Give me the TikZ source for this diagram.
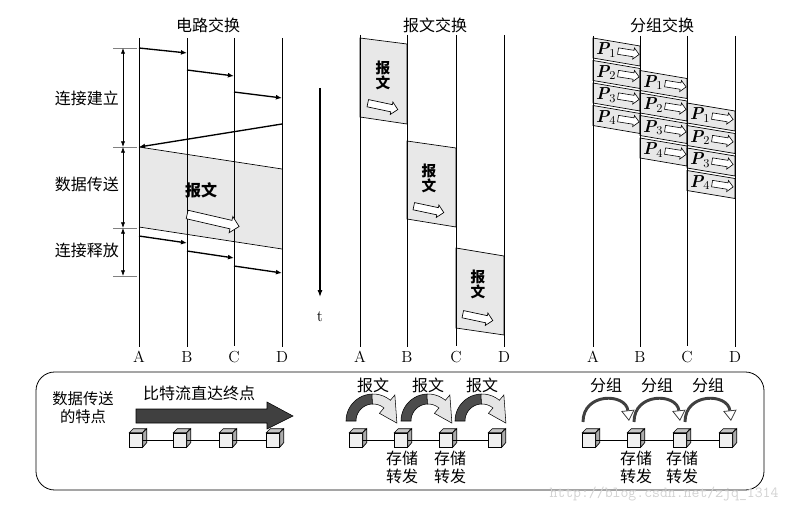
\documentclass[tikz,border=0pt]{standalone}
\usepackage{fontspec}
\newfontfamily\cjk{Noto Sans CJK SC}
\usetikzlibrary{arrows.meta,positioning,calc,shapes.arrows}

\tikzset{
 marc/.pic={
  \filldraw[fill=black!70,line width=0.4pt] plot[domain=180:92,samples=14] ({27*cos(\x)},{-27*sin(\x)}) -- plot[domain=92:180,samples=14] ({17*cos(\x)},{-17*sin(\x)}) -- cycle;
  \filldraw[fill=gray!20,line width=0.4pt] plot[domain=92:50,samples=10] ({27*cos(\x)},{-27*sin(\x)}) -- ({34*cos(50)},{-34*sin(50)}) -- ({24*cos(-5)},{-24*sin(-5)}) -- ({10*cos(50)},{-10*sin(50)}) -- plot[domain=50:92,samples=10] ({17*cos(\x)},{-17*sin(\x)}) -- cycle;
 }
}

\begin{document}
\begin{tikzpicture}[x=0.75pt,y=-0.75pt,font=\fontsize{12}{14}\selectfont,
 lane/.style={line width=0.6pt},
 sig/.style={-{Latex[length=1.6mm,width=1.3mm]},line width=1pt},
 tick/.style={draw=gray,line width=0.4pt},
 span/.style={{Latex[length=1.5mm,width=1.1mm]}-{Latex[length=1.5mm,width=1.1mm]},line width=0.5pt},
 msgbox/.style={fill=gray!18,draw=black,line width=0.5pt},
 zh/.style={font=\cjk\fontsize{12}{13.5}\selectfont},
 zhv/.style={font=\cjk\bfseries\fontsize{11}{11.3}\selectfont,align=center},
 hollow/.style={single arrow,draw,fill=white,line width=0.5pt,inner sep=0pt,minimum height=40pt,minimum width=12pt,single arrow head extend=3pt,inner ysep=3pt},
 hollowmid/.style={hollow,minimum height=23pt,minimum width=9pt,single arrow head extend=2pt,inner ysep=2.5pt},
 hollowsm/.style={hollow,minimum height=16pt,minimum width=8pt,single arrow head extend=1.8pt,inner ysep=2.2pt,line width=0.45pt},
 cube/.style={draw,fill=gray!12,inner sep=0pt,minimum width=9.5pt,minimum height=10.5pt,line width=0.5pt},
 parc/.style={line width=2.2pt,draw=black!75,-{Triangle[open,length=8pt,width=10pt,line width=0.6pt]}}]
\useasboundingbox (0,0) rectangle (794,517);

% circuit switching
\node[zh] (ttl1) at (208,25) {电路交换};
\node (ca) at (139,357) {A};
\node (cb) at (187,357) {B};
\node (cc) at (234,357) {C};
\node (cd) at (282,357) {D};
\fill[gray!18] (ca |- 0,147) -- (cd |- 0,169) -- (cd |- 0,249) -- (ca |- 0,227) -- cycle;
\draw[line width=0.5pt] (ca |- 0,147) -- (cd |- 0,169);
\draw[line width=0.5pt] (ca |- 0,227) -- (cd |- 0,249);
\foreach \n in {ca,cb,cc,cd}
  \draw[lane] (\n |- 0,38) -- (\n.north);
\draw[sig] (ca |- 0,48) -- (cb |- 0,53);
\draw[sig] (cb |- 0,70) -- (cc |- 0,76);
\draw[sig] (cc |- 0,92) -- (cd |- 0,98);
\draw[sig] (cd |- 0,124) -- (ca |- 0,147);
\draw[sig] (ca |- 0,236) -- (cb |- 0,243);
\draw[sig] (cb |- 0,251) -- (cc |- 0,258);
\draw[sig] (cc |- 0,266) -- (cd |- 0,273);
\node[zh,font=\cjk\bfseries\fontsize{12}{14}\selectfont] (cmsg) at (201,190) {报文};
\node[hollow,rotate=-13] (cdir) at (211,220) {};

\coordinate (m0) at (123,48);
\coordinate (m1) at (123,147);
\coordinate (m2) at (123,228);
\coordinate (m3) at (123,276);
\foreach \m in {m0,m1,m2,m3}
  \draw[tick] ($(\m)+(-10,0)$) -- ($(\m)+(14,0)$);
\draw[span] (m0) -- (m1);
\draw[span] (m1) -- (m2);
\draw[span] (m2) -- (m3);
\node[zh] (setup) at (87,98) {连接建立};
\node[zh] (transfer) at (87,184) {数据传送};
\node[zh] (release) at (87,250) {连接释放};

\node (t) at (320,317) {t};
\draw[-{Latex[length=1.8mm,width=1.3mm]},line width=0.8pt] (t |- 0,88) -- (t |- 0,297);

% message switching
\node[zh] (ttl2) at (435,25) {报文交换};
\node (ma) at (360,357) {A};
\node (mb) at (407,357) {B};
\node (mc) at (456,357) {C};
\node (md) at (504,357) {D};
\draw[msgbox] (ma |- 0,38) -- (mb |- 0,44) -- (mb |- 0,124) -- (ma |- 0,117) -- cycle;
\draw[msgbox] (mb |- 0,141) -- (mc |- 0,148) -- (mc |- 0,227) -- (mb |- 0,219) -- cycle;
\draw[msgbox] (mc |- 0,248) -- (md |- 0,256) -- (md |- 0,335) -- (mc |- 0,328) -- cycle;
\foreach \n in {ma,mb,mc,md}
  \draw[lane] (\n |- 0,35) -- (\n.north);
\node[zhv] (msg1) at (383,75) {报\\文};
\node[zhv] (msg2) at (429,178) {报\\文};
\node[zhv] (msg3) at (478,284) {报\\文};
\node[hollowmid,rotate=-12] (mdir1) at (381,106) {};
\node[hollowmid,rotate=-12] (mdir2) at (427,209) {};
\node[hollowmid,rotate=-12] (mdir3) at (476,317) {};

% packet switching
\node[zh] (ttl3) at (662,25) {分组交换};
\node (pa) at (593,357) {A};
\node (pb) at (640,357) {B};
\node (pc) at (687,357) {C};
\node (pd) at (735,357) {D};
\foreach \c/\xa/\xb/\ty in {a/593/640/38,b/640/687/70.5,c/687/735/103}
  \foreach \k in {1,...,4} {
    \pgfmathsetmacro\tp{\ty+(\k-1)*22.5}
    \draw[msgbox] (\xa,\tp) -- (\xb,\tp+8) -- (\xb,\tp+28) -- (\xa,\tp+20) -- cycle;
    \node[font=\bfseries\itshape\fontsize{13}{14}\selectfont,inner sep=0pt] (pkt\c\k) at (\xa+13,\tp+12) {P$_{\k}$};
    \node[hollowsm,rotate=-9] (pdir\c\k) at (\xa+34,\tp+14.5) {};
  }
\foreach \n in {pa,pb,pc,pd}
  \draw[lane] (\n |- 0,36) -- (\n.north);

% features
\draw[line width=0.6pt,rounded corners=14pt] (36,372) rectangle (764,490);
\node[zh,align=center,font=\cjk\fontsize{11.5}{13.5}\selectfont] (feat) at (83,408) {数据传送\\的特点};
\node[zh] (bitlbl) at (199,393) {比特流直达终点};
\fill[black!75,draw=black,line width=0.4pt] (136,409) -- (267,409) -- (267,402) -- (293,416) -- (267,429) -- (267,423) -- (136,423) -- cycle;

\foreach \i/\xk in {1/136,2/180,3/226,4/273}
  \node[cube] (ka\i) at (\xk,440) {};
\foreach \i/\xk in {1/356,2/401,3/446,4/495}
  \node[cube] (kb\i) at (\xk,440) {};
\foreach \i/\xk in {1/589,2/634,3/680,4/726}
  \node[cube] (kc\i) at (\xk,440) {};
\foreach \g in {ka,kb,kc} {
  \foreach \i in {1,...,4} {
    \fill[gray!45,draw=black,line width=0.5pt] (\g\i.north west) -- ++(4,-4) -- ++(12.7,0) -- (\g\i.north east) -- cycle;
    \fill[gray!65,draw=black,line width=0.5pt] (\g\i.north east) -- ++(4,-4) -- ++(0,14) -- (\g\i.south east) -- cycle;
  }
  \draw[line width=0.5pt] (\g1) -- (\g2);
  \draw[line width=0.5pt] (\g2) -- (\g3);
  \draw[line width=0.5pt] (\g3) -- (\g4);
}

\foreach \i/\cx in {1/373,2/428,3/482} {
  \node[zh] (ml\i) at (\cx,385) {报文};
  \pic at (\cx,421) {marc};
}
\node[zh,align=center] (store1) at (402,467) {存储\\转发};
\node[zh,align=center] (store2) at (450,467) {存储\\转发};

\foreach \i/\cx in {1/606,2/657,3/708} {
  \node[zh] (pl\i) at (\cx,385) {分组};
  \coordinate (pf\i) at (\cx-23,422);
  \coordinate (pt\i) at (\cx+23,421);
  \draw[parc] (pf\i) .. controls +(0,-30) and +(-3,-28) .. (pt\i);
}
\node[zh,align=center] (store3) at (636,467) {存储\\转发};
\node[zh,align=center] (store4) at (682,467) {存储\\转发};

\node[text=gray!35,font=\ttfamily\fontsize{11.5}{13}\selectfont] (wm) at (664,494) {http://blog.csdn.net/zjq\_1314};
\end{tikzpicture}
\end{document}
